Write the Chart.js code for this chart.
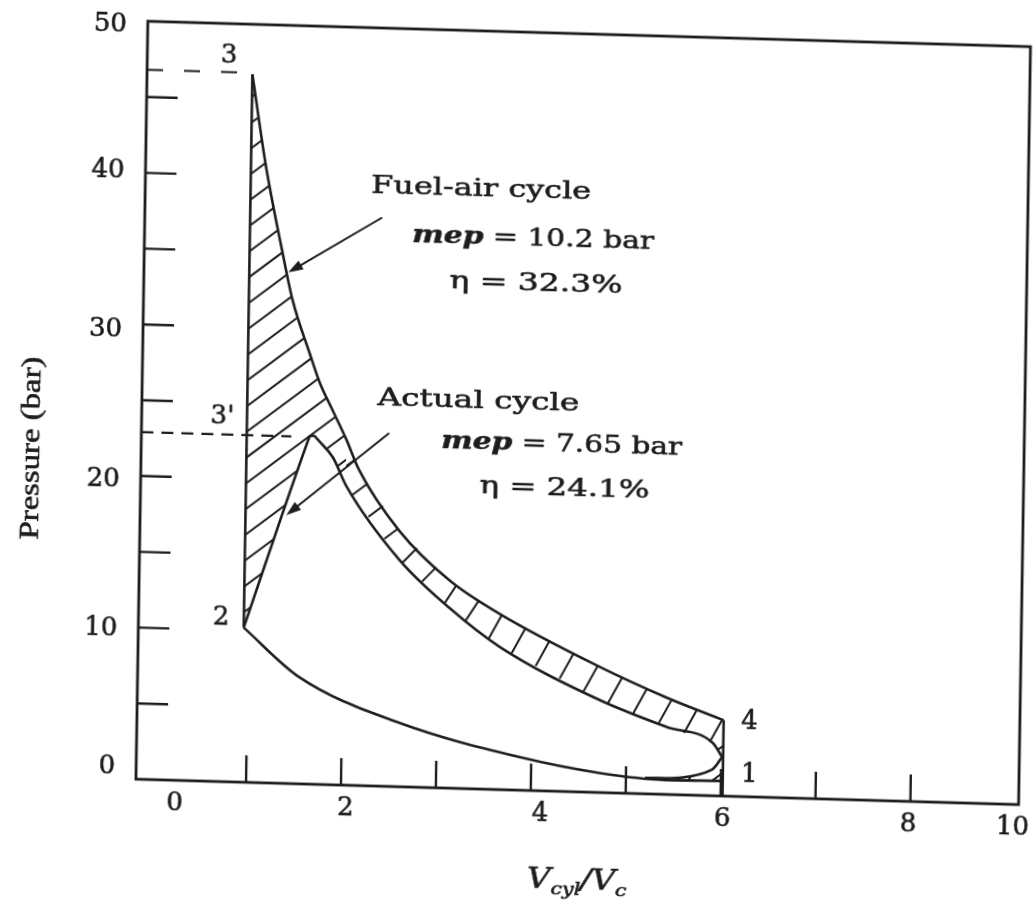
<!DOCTYPE html>
<html>
<head>
<meta charset="utf-8">
<title>Fuel-air cycle vs actual cycle</title>
<script src="https://cdn.jsdelivr.net/npm/chart.js@4.4.0/dist/chart.umd.min.js"></script>
<style>
  html, body { margin: 0; padding: 0; background: #fff; overflow: hidden; }
  #wrap { width: 1036px; height: 906px; }
  /* the printed figure sits slightly askew on the page */
  #pv { transform-origin: 584px 410px; transform: matrix(1, 0.0288, -0.0157, 1, 0, 0); }
</style>
</head>
<body>
<div id="wrap"><canvas id="pv" width="1036" height="906"></canvas></div>
<script>
// axis ticks (V in clearance volumes, P in bar)
const xTicks = [1, 2, 3, 4, 5, 6, 7, 8];
const xTickLabels = ['0', '2', '4', '6', '8', '10'];
const xTickLabelAt = [0.25, 2.05, 4.1, 6.02, 7.98, 9.08];
const yTicks = [5, 10, 15, 20, 25, 30, 35, 40, 45];
const yTickLabels = ['0', '10', '20', '30', '40', '50'];
const yTickLabelAt = [0.75, 9.9, 19.7, 29.6, 40.1, 49.7];

// fuel-air cycle 1-2-3-4
const heatAddV = [0.95, 0.95];
const heatAddP = [10.2, 46.7];
const expandV = [0.95, 1.11, 1.29, 1.41, 1.6, 1.71, 1.85, 2.0, 2.14, 2.57, 3.11, 3.64, 4.7, 5.41, 6.02];
const expandP = [46.7, 40.6, 35.2, 31.9, 28.4, 26.5, 24.7, 22.8, 20.8, 16.9, 13.7, 11.6, 8.3, 6.4, 5.0];
const exhaustV = [6.02, 6.02];
const exhaustP = [5.0, 0];
const compressV = [0.95, 1.54, 2.61, 3.87, 4.72, 5.42, 6.02];
const compressP = [10.2, 7.05, 4.2, 2.19, 1.29, 0.95, 1.0];

// actual engine cycle
const burnV = [0.95, 1.61, 1.66];
const burnP = [10.2, 22.9, 23.0];
const actualExpV = [1.66, 1.72, 1.86, 2.01, 2.58, 3.11, 3.65, 4.71, 5.42, 5.91, 6.01];
const actualExpP = [23.0, 22.6, 21.6, 19.7, 14.95, 11.9, 9.41, 6.1, 4.45, 3.48, 2.57];
const blowdownV = [6.01, 5.9, 5.6, 5.2];
const blowdownP = [2.57, 1.7, 1.15, 1.05];

// state points
const stateNames = ['3', "3'", '2', '4', '1'];
const stateV = [0.70, 0.69, 0.71, 6.29, 6.30];
const stateP = [47.9, 24.05, 10.8, 4.93, 1.44];
const peakP = [46.8, 22.9];
const peakEndV = [0.81, 1.42];

const ink = '#1d1d1d';
const serif = '"DejaVu Serif", "Liberation Serif", serif';

const pts = (V, P) => V.map((v, i) => ({ x: v, y: P[i] }));
const curve = (V, P, smooth) => ({
  data: pts(V, P), showLine: true, pointRadius: 0, borderColor: ink,
  borderWidth: 2.6, fill: false,
  tension: 0.3, cubicInterpolationMode: smooth ? 'monotone' : 'default'
});

// closed outlines used for the hatched difference area
const backV = compressV.slice().reverse(), backP = compressP.slice().reverse();
const fuelAirLoopV = [...heatAddV, ...expandV, ...exhaustV.slice(0, 1), ...backV];
const fuelAirLoopP = [...heatAddP, ...expandP, ...exhaustP.slice(0, 1), ...backP];
const tailIdx = backV.findIndex(v => v < blowdownV[blowdownV.length - 1]);
const actualLoopV = [...burnV, ...actualExpV, ...blowdownV, ...backV.slice(tailIdx)];
const actualLoopP = [...burnP, ...actualExpP, ...blowdownP, ...backP.slice(tailIdx)];

// runs of text in mixed fonts, squeezed or stretched to a given width
function richText(ctx, parts, x, y, width, align) {
  let w = 0;
  parts.forEach(p => { ctx.font = p.font; p.w = ctx.measureText(p.text).width; w += p.w; });
  const k = width ? width / w : 1;
  ctx.save();
  ctx.textAlign = 'left';
  ctx.lineWidth = 0.6;
  ctx.translate(x, y);
  ctx.scale(k, 1);
  let cx = align === 'center' ? -w / 2 : 0;
  parts.forEach(p => {
    ctx.font = p.font;
    ctx.fillText(p.text, cx, p.dy || 0);
    ctx.strokeText(p.text, cx, p.dy || 0);
    cx += p.w;
  });
  ctx.restore();
}

function arrow(ctx, x0, y0, x1, y1) {
  const a = Math.atan2(y1 - y0, x1 - x0);
  ctx.beginPath();
  ctx.moveTo(x0, y0);
  ctx.lineTo(x1 - 10 * Math.cos(a), y1 - 10 * Math.sin(a));
  ctx.stroke();
  ctx.beginPath();
  ctx.moveTo(x1, y1);
  ctx.lineTo(x1 - 15 * Math.cos(a) + 5 * Math.sin(a), y1 - 15 * Math.sin(a) - 5 * Math.cos(a));
  ctx.lineTo(x1 - 15 * Math.cos(a) - 5 * Math.sin(a), y1 - 15 * Math.sin(a) + 5 * Math.cos(a));
  ctx.closePath();
  ctx.fill();
}

const pvFigure = {
  id: 'pvFigure',
  beforeDatasetsDraw(chart) {
    const { ctx, chartArea: a, scales: { x, y } } = chart;
    const X = v => x.getPixelForValue(v), Y = p => y.getPixelForValue(p);
    const trace = (V, P) => {
      V.forEach((v, i) => i ? ctx.lineTo(X(v), Y(P[i])) : ctx.moveTo(X(v), Y(P[i])));
      ctx.closePath();
    };
    ctx.save();
    ctx.beginPath();
    trace(fuelAirLoopV, fuelAirLoopP);
    trace(actualLoopV, actualLoopP);
    ctx.clip('evenodd');
    ctx.strokeStyle = ink;
    ctx.lineWidth = 2;
    const split = X(2.0);
    const h = a.bottom - a.top;

    // long parallel strokes in the wedge beside 2-3
    ctx.save();
    ctx.beginPath(); ctx.rect(a.left, a.top, split - a.left, h); ctx.clip();
    const t = Math.tan(38 * Math.PI / 180);
    ctx.beginPath();
    for (let c = a.left - h / t; c < split + 40; c += 33) {
      ctx.moveTo(c, a.bottom);
      ctx.lineTo(c + h / t, a.top);
    }
    ctx.stroke();
    ctx.restore();

    // short strokes across the band, square to the expansion line
    ctx.save();
    ctx.beginPath(); ctx.rect(split, a.top, a.right - split, h); ctx.clip();
    const path = [];
    expandV.forEach((v, i) => { if (v >= 1.85) path.push([X(v), Y(expandP[i])]); });
    path.push([X(exhaustV[1]), Y(exhaustP[1])]);
    ctx.beginPath();
    let carry = 0;
    for (let i = 0; i < path.length - 1; i++) {
      const [x0, y0] = path[i], [x1, y1] = path[i + 1];
      const len = Math.hypot(x1 - x0, y1 - y0);
      const tx = (x1 - x0) / len, ty = (y1 - y0) / len;
      let phi = Math.atan2(tx, ty);
      phi = Math.min(Math.max(phi, 38 * Math.PI / 180), 62 * Math.PI / 180);
      const dx = Math.cos(phi), dy = -Math.sin(phi);
      for (let s = carry; s < len; s += 27) {
        const px = x0 + tx * s, py = y0 + ty * s;
        ctx.moveTo(px - dx * 70, py - dy * 70);
        ctx.lineTo(px + dx * 70, py + dy * 70);
        carry = s + 27 - len;
      }
    }
    ctx.stroke();
    ctx.restore();
    ctx.restore();
  },
  afterDatasetsDraw(chart) {
    const { ctx, chartArea: a, scales: { x, y } } = chart;
    const X = v => x.getPixelForValue(v), Y = p => y.getPixelForValue(p);
    ctx.save();
    ctx.strokeStyle = ink;
    ctx.fillStyle = ink;

    // frame
    ctx.lineWidth = 2.8;
    ctx.strokeRect(a.left, a.top, a.right - a.left, a.bottom - a.top);

    // inward tick marks
    ctx.lineWidth = 2.4;
    ctx.beginPath();
    xTicks.forEach(v => { ctx.moveTo(X(v), a.bottom); ctx.lineTo(X(v), a.bottom - 27); });
    yTicks.forEach(p => { ctx.moveTo(a.left, Y(p)); ctx.lineTo(a.left + 31, Y(p)); });
    ctx.stroke();

    // tick labels
    const num = '26px ' + serif;
    ctx.textBaseline = 'middle';
    xTickLabels.forEach((s, i) =>
      richText(ctx, [{ text: s, font: num }], X(xTickLabelAt[i]), a.bottom + 23, 0, 'center'));
    yTickLabels.forEach((s, i) => {
      ctx.font = num;
      const w = ctx.measureText(s).width;
      richText(ctx, [{ text: s, font: num }], a.left - 21 - w, Y(yTickLabelAt[i]), 0);
    });

    // axis titles
    ctx.textBaseline = 'alphabetic';
    const it = sz => 'italic ' + sz + 'px ' + serif;
    richText(ctx, [
      { text: 'V', font: it(27) }, { text: 'cyl', font: it(17), dy: 6 },
      { text: '/V', font: it(27) }, { text: 'c', font: it(17), dy: 6 }
    ], X(4.5), a.bottom + 97, 100, 'center');
    ctx.save();
    ctx.translate(33, 464);
    ctx.rotate(-Math.PI / 2);
    ctx.textBaseline = 'middle';
    richText(ctx, [{ text: 'Pressure (bar)', font: '28px "Liberation Serif", serif' }], 0, 0, 183, 'center');
    ctx.restore();

    // peak pressure guides
    ctx.lineWidth = 2.2;
    ctx.setLineDash([16, 21]);
    ctx.beginPath(); ctx.moveTo(a.left, Y(peakP[0])); ctx.lineTo(X(peakEndV[0]), Y(peakP[0])); ctx.stroke();
    ctx.setLineDash([12, 8]);
    ctx.beginPath(); ctx.moveTo(a.left, Y(peakP[1])); ctx.lineTo(X(peakEndV[1]), Y(peakP[1])); ctx.stroke();
    ctx.setLineDash([]);

    // state numbers
    ctx.textBaseline = 'middle';
    stateNames.forEach((s, i) =>
      richText(ctx, [{ text: s, font: num }], X(stateV[i]), Y(stateP[i]), 0, 'center'));

    // cycle notes
    ctx.textBaseline = 'alphabetic';
    const rm = '25px ' + serif, bi = 'bold italic 25px ' + serif;
    richText(ctx, [{ text: 'Fuel-air cycle', font: rm }], X(2.22), Y(39.1), 220);
    richText(ctx, [{ text: 'mep', font: bi }, { text: ' = 10.2 bar', font: rm }], X(2.66), Y(35.96), 242);
    richText(ctx, [{ text: '\u03B7 = 32.3%', font: rm }], X(3.06), Y(33.0), 173);
    richText(ctx, [{ text: 'Actual cycle', font: rm }], X(2.32), Y(25.1), 202);
    richText(ctx, [{ text: 'mep', font: bi }, { text: ' = 7.65 bar', font: rm }], X(3.0), Y(22.4), 241);
    richText(ctx, [{ text: '\u03B7 = 24.1%', font: rm }], X(3.41), Y(19.5), 170);

    ctx.lineWidth = 2;
    arrow(ctx, X(2.34), Y(37.5), X(1.36), Y(33.7));
    arrow(ctx, X(2.45), Y(23.3), X(1.38), Y(17.7));
    ctx.restore();
  }
};

new Chart(document.getElementById('pv'), {
  type: 'scatter',
  data: {
    datasets: [
      curve(heatAddV, heatAddP),
      curve(expandV, expandP, true),
      curve(exhaustV, exhaustP),
      curve(compressV, compressP, true),
      curve(burnV, burnP),
      curve(actualExpV, actualExpP, true),
      curve(blowdownV, blowdownP)
    ]
  },
  options: {
    responsive: false,
    animation: false,
    layout: { padding: { left: 142, right: 11, top: 34, bottom: 114 } },
    scales: {
      x: { type: 'linear', min: -0.16, max: 9.14, display: false },
      y: { type: 'linear', min: 0, max: 50, display: false }
    },
    plugins: { legend: { display: false }, tooltip: { enabled: false } }
  },
  plugins: [pvFigure]
});
</script>
</body>
</html>
